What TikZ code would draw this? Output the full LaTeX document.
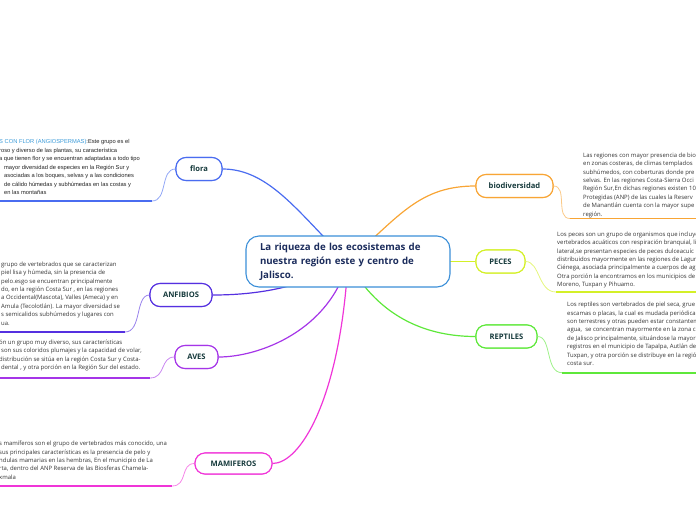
\documentclass[tikz,border=0pt]{standalone}
\usepackage{fontspec}
\setmainfont{Open Sans}
\newfontfamily\arialf{Liberation Sans}
\definecolor{cblue}{HTML}{3B8FD8}
\definecolor{cflora}{HTML}{4A6CF0}
\definecolor{cbio}{HTML}{F8A535}
\definecolor{cpec}{HTML}{D4F028}
\definecolor{crep}{HTML}{5EE83A}
\definecolor{canf}{HTML}{5530E0}
\definecolor{caves}{HTML}{A535E8}
\definecolor{cmam}{HTML}{F035D8}
\definecolor{clabel}{HTML}{163A3C}
\definecolor{ctitle}{HTML}{1B2C5C}
\definecolor{ctext}{HTML}{333333}
\definecolor{cdark}{HTML}{222222}
\definecolor{clink}{HTML}{3A9AD8}
\begin{document}
\begin{tikzpicture}[x=1pt,y=-1pt,
  topic/.style={draw=#1, line width=1.1pt, rounded corners=10pt, fill=white,
    text=clabel, font=\bfseries\fontsize{7.6}{9}\selectfont, minimum height=23pt, inner sep=0pt},
  mainedge/.style={draw=#1, line width=1.2pt},
  subedge/.style={draw=#1!60, line width=0.8pt},
  uline/.style={draw=#1, line width=1.8pt},
  body/.style={anchor=north west, inner sep=0pt, align=left, text=ctext,
    font=\fontsize{5.95}{8.4}\selectfont},
]
\useasboundingbox (0,0) rectangle (696,520);
\clip (0,0) rectangle (696,520);

\coordinate (cc) at (348,261.5);

\node[topic=cflora, minimum width=46pt] (flora) at (199,169) {flora};
\node[topic=cbio, minimum width=77pt] (bio) at (514.5,186) {biodiversidad};
\node[topic=cpec, minimum width=49pt] (peces) at (500.5,261.5) {PECES};
\node[topic=crep, minimum width=61pt] (rep) at (506.5,336.5) {REPTILES};
\node[topic=canf, minimum width=62pt] (anf) at (181,295) {ANFIBIOS};
\node[topic=caves, minimum width=43pt] (aves) at (196.5,357) {AVES};
\node[topic=cmam, minimum width=77pt, minimum height=21pt] (mam) at (233.5,463.5) {MAMIFEROS};

\draw[mainedge=cflora] (cc) .. controls (300,215) and (270,169) .. (flora.east);
\draw[mainedge=cbio] (cc) .. controls (400,215) and (420,186) .. (bio.west);
\draw[mainedge=cpec] (cc) -- (peces.west);
\draw[mainedge=crep] (cc) .. controls (380,320) and (430,336.5) .. (rep.west);
\draw[mainedge=canf] (cc) .. controls (300,290) and (250,295) .. (anf.east);
\draw[mainedge=caves] (cc) .. controls (330,330) and (260,357) .. (aves.east);
\draw[mainedge=cmam] (cc) .. controls (340,400) and (300,463.5) .. (mam.east);

\node[topic=cflora, minimum width=46pt] at (flora) {flora};
\node[topic=cbio, minimum width=77pt] at (bio) {biodiversidad};
\node[topic=cpec, minimum width=49pt] at (peces) {PECES};
\node[topic=crep, minimum width=61pt] at (rep) {REPTILES};
\node[topic=canf, minimum width=62pt] at (anf) {ANFIBIOS};
\node[topic=caves, minimum width=43pt] at (aves) {AVES};
\node[topic=cmam, minimum width=77pt, minimum height=21pt] at (mam) {MAMIFEROS};

\node[draw=cblue, line width=1.1pt, rounded corners=13pt, fill=white,
  minimum width=204pt, minimum height=51pt, text width=176pt, align=left,
  inner sep=0pt, text=ctitle, font=\bfseries\fontsize{9.7}{14}\selectfont] (main) at (cc)
  {La riqueza de los ecosistemas de\\nuestra región este y centro de\\Jalisco.};

\coordinate (uf) at (152,201);
\coordinate (ufl) at (0,201);
\coordinate (ua) at (125,332);
\coordinate (ual) at (0,332);
\coordinate (uv) at (150,378);
\coordinate (uvl) at (0,378);
\coordinate (um) at (172,486);
\coordinate (uml) at (0,486);
\coordinate (ub) at (570,218.5);
\coordinate (ubr) at (696,218.5);
\coordinate (up) at (556,292);
\coordinate (upr) at (696,292);
\coordinate (ur) at (562,372.7);
\coordinate (urr) at (696,372.7);

\draw[subedge=cflora] (flora.west) .. controls (160,169) and (168,201) .. (uf);
\draw[subedge=canf] (anf.west) .. controls (135,295) and (142,332) .. (ua);
\draw[subedge=caves] (aves.west) .. controls (160,357) and (166,378) .. (uv);
\draw[subedge=cmam] (mam.west) .. controls (180,463.5) and (188,486) .. (um);
\draw[subedge=cbio] (bio.east) .. controls (568,186) and (555,218.5) .. (ub);
\draw[subedge=cpec] (peces.east) .. controls (540,261.5) and (538,292) .. (up);
\draw[subedge=crep] (rep.east) .. controls (552,336.5) and (545,372.7) .. (ur);

\draw[uline=cflora] (ufl) -- (uf);
\draw[uline=canf] (ual) -- (ua);
\draw[uline=caves] (uvl) -- (uv);
\draw[uline=cmam] (uml) -- (um);
\draw[uline=cbio] (ub) -- (ubr);
\draw[uline=cpec] (up) -- (upr);
\draw[uline=crep] (ur) -- (urr);

\node[body, text=cdark, font=\arialf\fontsize{5.75}{8.5}\selectfont] (tflora) at (-1,139.5)
{{\color{clink}S CON FLOR (ANGIOSPERMAS)}:Este grupo es el\\
roso y diverso de las plantas, su característica\\
a que tienen flor y se encuentran adaptadas a todo tipo\\
\hspace*{5pt}mayor diversidad de especies en la Región Sur y\\
\hspace*{5pt}asociadas a los boques, selvas y a las condiciones\\
\hspace*{5pt}de cálido húmedas y subhúmedas en las costas y\\
\hspace*{5pt}en las montañas};

\node[body] (tanf) at (1,261.5)
{grupo de vertebrados que se caracterizan\\
piel lisa y húmeda, sin la presencia de\\
pelo.esgo se encuentran principalmente\\
do, en la región Costa Sur , en las regiones\\
a Occidental(Mascota), Valles (Ameca) y en\\
Amula (Tecolotlán). La mayor diversidad se\\
s semicalidos subhúmedos y lugares con\\
ua.};

\node[body] (taves) at (-1,339.5)
{ón un grupo muy diverso, sus características\\
\hspace*{2pt}son sus coloridos plumajes y la capacidad de volar,\\
distribución se sitúa en la región Costa Sur y Costa-\\
\hspace*{2pt}dental , y otra porción en la Región Sur del estado.};

\node[body] (tmam) at (-1,441)
{s mamíferos son el grupo de vertebrados más conocido, una\\
sus principales características es la presencia de pelo y\\
ndulas mamarias en las hembras, En el municipio de La\\
rta, dentro del ANP Reserva de las Biosferas Chamela-\\
xmala};

\node[body] (tbio) at (583,152.5)
{Las regiones con mayor presencia de bio\\
en zonas costeras, de climas templados\\
subhúmedos, con coberturas donde pre\\
selvas. En las regiones Costa-Sierra Occi\\
Región Sur,En dichas regiones existen 10\\
Protegidas (ANP) de las cuales la Reserv\\
de Manantlán cuenta con la mayor supe\\
región.};

\node[body] (tpec) at (557,231.5)
{Los peces son un grupo de organismos que incluye\\
vertebrados acuáticos con respiración branquial, li\\
lateral,se presentan especies de peces dulceacuíc\\
distribuidos mayormente en las regiones de Lagun\\
Ciénega, asociada principalmente a cuerpos de ag\\
Otra porción la encontramos en los municipios de l\\
Moreno, Tuxpan y Pihuamo.};

\node[body] (trep) at (567,302)
{Los reptiles son vertebrados de piel seca, grue\\
escamas o placas, la cual es mudada periódica\\
son terrestres y otras pueden estar constantem\\
agua,\ \ se concentran mayormente en la zona c\\
de Jalisco principalmente, situándose la mayor\\
registros en el municipio de Tapalpa, Autlán de\\
Tuxpan, y otra porción se distribuye en la regió\\
costa sur.};
\end{tikzpicture}
\end{document}
